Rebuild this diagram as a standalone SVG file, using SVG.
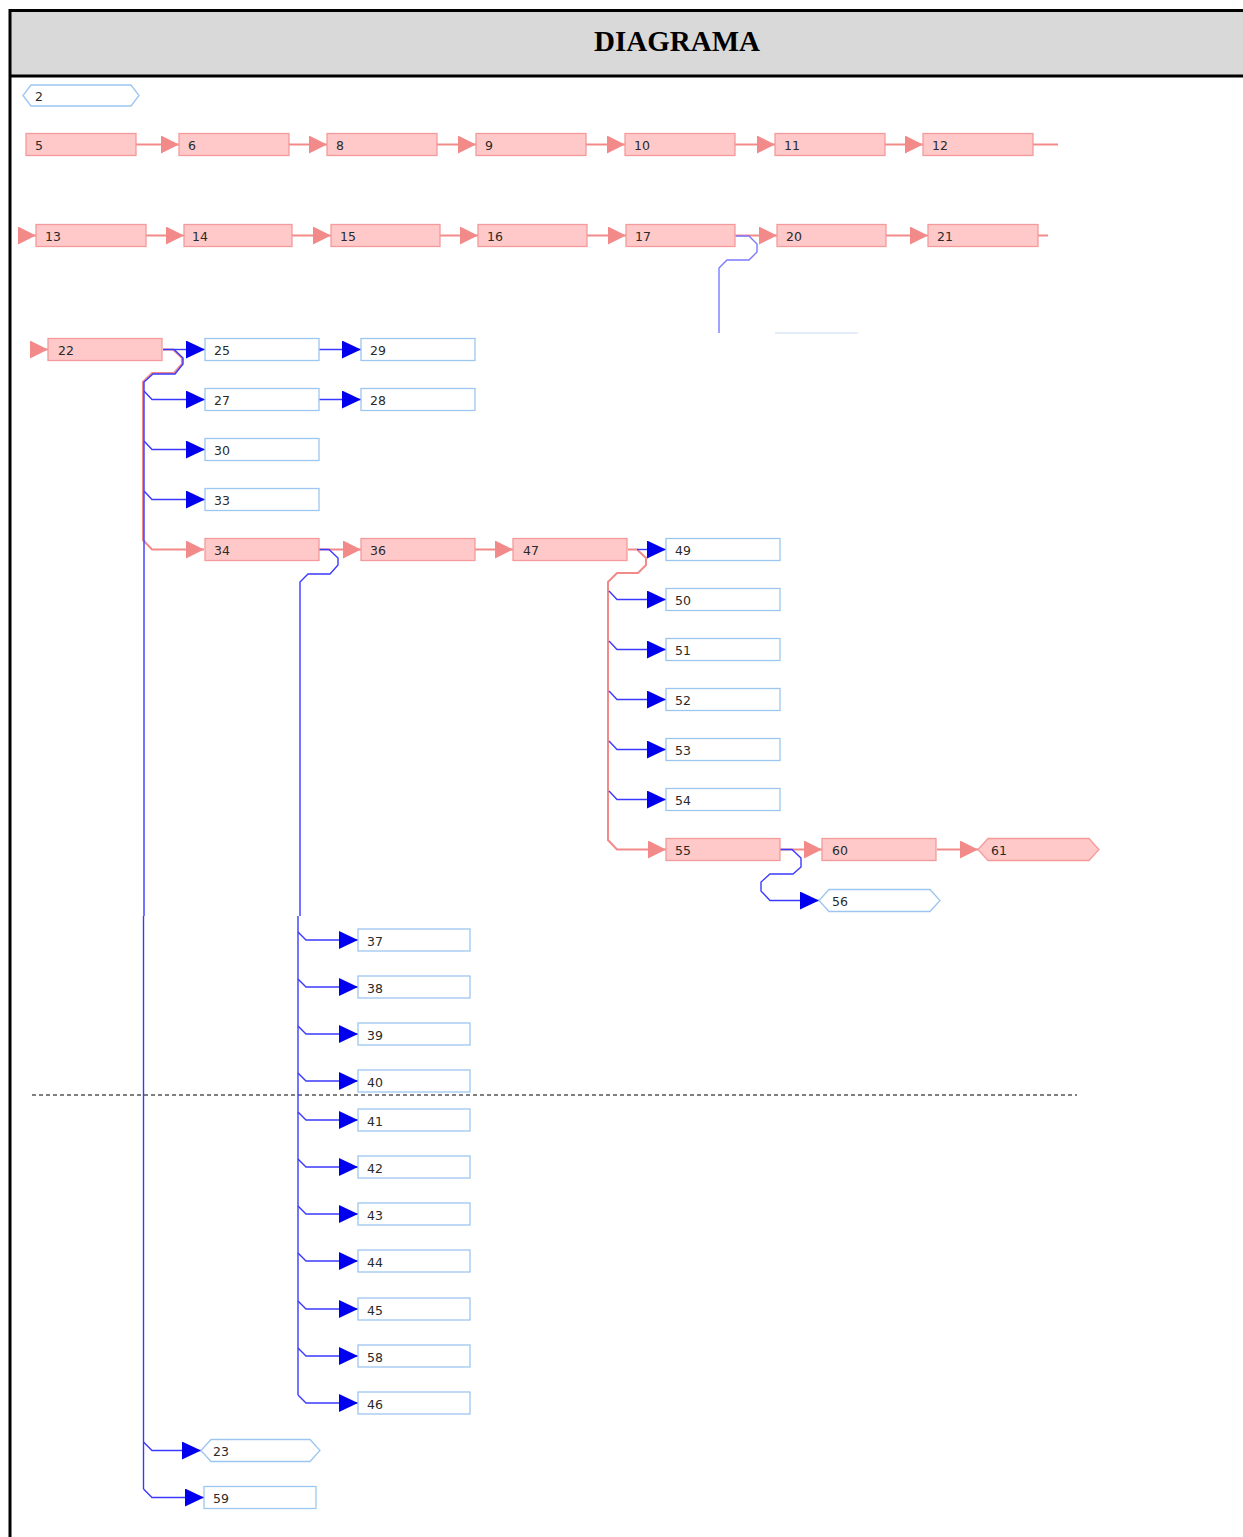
<svg xmlns="http://www.w3.org/2000/svg" width="1243" height="1537" viewBox="0 0 1243 1537">
<style>
.pk{fill:#ffc9c9;stroke:#f59a9a;stroke-width:1.3}
.bl{fill:#ffffff;stroke:#9cc6f0;stroke-width:1.3}
.t{font-family:"DejaVu Sans",sans-serif;font-size:12.5px;fill:#2a2a2a}
.pl{fill:none;stroke:#f38a8a;stroke-width:2}
.bln{fill:none;stroke:#3a3aff;stroke-width:1.4}
.blf{fill:none;stroke:#7a7aff;stroke-width:1.4}
</style>
<defs>
<marker id="pa" markerUnits="userSpaceOnUse" markerWidth="18" markerHeight="18" refX="17" refY="8.5" orient="auto" viewBox="0 0 17 17"><path d="M0,0 L17,8.5 L0,17 z" fill="#f38a8a"/></marker>
<marker id="ba" markerUnits="userSpaceOnUse" markerWidth="19" markerHeight="18" refX="18" refY="8.5" orient="auto" viewBox="0 0 18 17"><path d="M0,0 L18,8.5 L0,17 z" fill="#0000ee"/></marker>
</defs>

<g id="header">
<rect x="10" y="10" width="1240" height="66" fill="#d9d9d9"/>
<line x1="9" y1="10.5" x2="1243" y2="10.5" stroke="#000" stroke-width="3"/>
<line x1="9" y1="76" x2="1243" y2="76" stroke="#000" stroke-width="3"/>
<line x1="10" y1="9" x2="10" y2="1537" stroke="#000" stroke-width="3"/>
<text x="677" y="51" text-anchor="middle" font-family="'Liberation Serif',serif" font-weight="bold" font-size="29" fill="#000">DIAGRAMA</text>
</g>

<g id="pagebreak">
<line x1="32" y1="1095" x2="1077" y2="1095" stroke="#000" stroke-width="1" stroke-dasharray="4,3"/>
</g>

<g id="connectors">
<!-- row 1 -->
<line class="pl" x1="136" y1="144.5" x2="179" y2="144.5" marker-end="url(#pa)"/>
<line class="pl" x1="289" y1="144.5" x2="327" y2="144.5" marker-end="url(#pa)"/>
<line class="pl" x1="437" y1="144.5" x2="476" y2="144.5" marker-end="url(#pa)"/>
<line class="pl" x1="586" y1="144.5" x2="625" y2="144.5" marker-end="url(#pa)"/>
<line class="pl" x1="735" y1="144.5" x2="775" y2="144.5" marker-end="url(#pa)"/>
<line class="pl" x1="885" y1="144.5" x2="923" y2="144.5" marker-end="url(#pa)"/>
<line class="pl" x1="1033" y1="144.5" x2="1058" y2="144.5"/>
<!-- row 2 -->
<line class="pl" x1="19" y1="235.5" x2="36" y2="235.5" marker-end="url(#pa)"/>
<line class="pl" x1="146" y1="235.5" x2="184" y2="235.5" marker-end="url(#pa)"/>
<line class="pl" x1="292" y1="235.5" x2="331" y2="235.5" marker-end="url(#pa)"/>
<line class="pl" x1="440" y1="235.5" x2="478" y2="235.5" marker-end="url(#pa)"/>
<line class="pl" x1="587" y1="235.5" x2="626" y2="235.5" marker-end="url(#pa)"/>
<line class="pl" x1="735" y1="235.5" x2="777" y2="235.5" marker-end="url(#pa)"/>
<line class="pl" x1="886" y1="235.5" x2="928" y2="235.5" marker-end="url(#pa)"/>
<line class="pl" x1="1038" y1="235.5" x2="1048" y2="235.5"/>
<path class="blf" d="M736,236 L749,236 L757,244 L757,252 L749,260 L727,260 L719,268 L719,333"/>
<line x1="775" y1="333" x2="858" y2="333" stroke="#c8d8f2" stroke-width="1"/>

<!-- 22 -->
<line class="pl" x1="30" y1="349.5" x2="48" y2="349.5" marker-end="url(#pa)"/>
<path class="pl" d="M163,349.5 L173,349.5 L182,358 L182,364 L174,373 L152,373 L143,382 L143,540 L152,549.5 L204,549.5" marker-end="url(#pa)"/>
<path class="bln" d="M163,349.5 L174,349.5 L183,358 L183,364 L175,374 L153,374 L144,382 L144,916"/>
<path class="bln" d="M143.5,916 L143.5,1489"/>
<line class="bln" x1="174" y1="349.5" x2="205" y2="349.5" marker-end="url(#ba)"/>
<path class="bln" d="M144,391 L152,399.5 L205,399.5" marker-end="url(#ba)"/>
<path class="bln" d="M144,441 L152,449.5 L205,449.5" marker-end="url(#ba)"/>
<path class="bln" d="M144,491 L152,499.5 L205,499.5" marker-end="url(#ba)"/>
<path class="bln" d="M143.5,1442 L152,1450.5 L201,1450.5" marker-end="url(#ba)"/>
<path class="bln" d="M143.5,1489 L152,1497.5 L204,1497.5" marker-end="url(#ba)"/>
<line class="bln" x1="319" y1="349.5" x2="361" y2="349.5" marker-end="url(#ba)"/>
<line class="bln" x1="319" y1="399.5" x2="361" y2="399.5" marker-end="url(#ba)"/>

<!-- 34 / 36 / 47 -->
<line class="pl" x1="319" y1="549.5" x2="361" y2="549.5" marker-end="url(#pa)"/>
<line class="pl" x1="475" y1="549.5" x2="513" y2="549.5" marker-end="url(#pa)"/>
<path class="bln" d="M319,549.5 L329,549.5 L338,558 L338,565 L330,574 L308,574 L300,582 L300,916"/>
<path class="bln" d="M298,916 L298,1395"/>
<path class="bln" d="M298,932 L306,940 L358,940" marker-end="url(#ba)"/>
<path class="bln" d="M298,979 L306,987 L358,987" marker-end="url(#ba)"/>
<path class="bln" d="M298,1026 L306,1034 L358,1034" marker-end="url(#ba)"/>
<path class="bln" d="M298,1073 L306,1081 L358,1081" marker-end="url(#ba)"/>
<path class="bln" d="M298,1112 L306,1120 L358,1120" marker-end="url(#ba)"/>
<path class="bln" d="M298,1159 L306,1167 L358,1167" marker-end="url(#ba)"/>
<path class="bln" d="M298,1206 L306,1214 L358,1214" marker-end="url(#ba)"/>
<path class="bln" d="M298,1253 L306,1261 L358,1261" marker-end="url(#ba)"/>
<path class="bln" d="M298,1301 L306,1309 L358,1309" marker-end="url(#ba)"/>
<path class="bln" d="M298,1348 L306,1356 L358,1356" marker-end="url(#ba)"/>
<path class="bln" d="M298,1395 L306,1403 L358,1403" marker-end="url(#ba)"/>

<!-- 47 -->
<path class="pl" d="M628,549.5 L637,549.5 L646,558 L646,565 L638,573 L617,573 L608,582 L608,840 L617,849.5 L666,849.5" marker-end="url(#pa)"/>
<line class="bln" x1="637" y1="549.5" x2="666" y2="549.5" marker-end="url(#ba)"/>
<path class="bln" d="M609,591 L617,599.5 L666,599.5" marker-end="url(#ba)"/>
<path class="bln" d="M609,641 L617,649.5 L666,649.5" marker-end="url(#ba)"/>
<path class="bln" d="M609,691 L617,699.5 L666,699.5" marker-end="url(#ba)"/>
<path class="bln" d="M609,741 L617,749.5 L666,749.5" marker-end="url(#ba)"/>
<path class="bln" d="M609,791 L617,799.5 L666,799.5" marker-end="url(#ba)"/>

<!-- 55 -->
<line class="pl" x1="780" y1="849.5" x2="822" y2="849.5" marker-end="url(#pa)"/>
<line class="pl" x1="937" y1="849.5" x2="978" y2="849.5" marker-end="url(#pa)"/>
<path class="bln" d="M780,849.5 L792,849.5 L801,858 L801,867 L793,874 L770,874 L761,882 L761,891 L770,900.5 L819,900.5" marker-end="url(#ba)"/>
</g>

<g id="n2"><path class="bl" d="M31,85 L131,85 L139,95.5 L131,106 L31,106 L23,95.5 z"/><text class="t" x="35" y="101">2</text></g>

<g id="n5"><rect class="pk" x="26" y="133.5" width="110" height="22"/><text class="t" x="35" y="150">5</text></g>
<g id="n6"><rect class="pk" x="179" y="133.5" width="110" height="22"/><text class="t" x="188" y="150">6</text></g>
<g id="n8"><rect class="pk" x="327" y="133.5" width="110" height="22"/><text class="t" x="336" y="150">8</text></g>
<g id="n9"><rect class="pk" x="476" y="133.5" width="110" height="22"/><text class="t" x="485" y="150">9</text></g>
<g id="n10"><rect class="pk" x="625" y="133.5" width="110" height="22"/><text class="t" x="634" y="150">10</text></g>
<g id="n11"><rect class="pk" x="775" y="133.5" width="110" height="22"/><text class="t" x="784" y="150">11</text></g>
<g id="n12"><rect class="pk" x="923" y="133.5" width="110" height="22"/><text class="t" x="932" y="150">12</text></g>

<g id="n13"><rect class="pk" x="36" y="224.5" width="110" height="22"/><text class="t" x="45" y="241">13</text></g>
<g id="n14"><rect class="pk" x="184" y="224.5" width="108" height="22"/><text class="t" x="192" y="241">14</text></g>
<g id="n15"><rect class="pk" x="331" y="224.5" width="109" height="22"/><text class="t" x="340" y="241">15</text></g>
<g id="n16"><rect class="pk" x="478" y="224.5" width="109" height="22"/><text class="t" x="487" y="241">16</text></g>
<g id="n17"><rect class="pk" x="626" y="224.5" width="109" height="22"/><text class="t" x="635" y="241">17</text></g>
<g id="n20"><rect class="pk" x="777" y="224.5" width="109" height="22"/><text class="t" x="786" y="241">20</text></g>
<g id="n21"><rect class="pk" x="928" y="224.5" width="110" height="22"/><text class="t" x="937" y="241">21</text></g>

<g id="n22"><rect class="pk" x="48" y="338.5" width="114" height="22"/><text class="t" x="58" y="355">22</text></g>
<g id="n25"><rect class="bl" x="205" y="338.5" width="114" height="22"/><text class="t" x="214" y="355">25</text></g>
<g id="n29"><rect class="bl" x="361" y="338.5" width="114" height="22"/><text class="t" x="370" y="355">29</text></g>
<g id="n27"><rect class="bl" x="205" y="388.5" width="114" height="22"/><text class="t" x="214" y="405">27</text></g>
<g id="n28"><rect class="bl" x="361" y="388.5" width="114" height="22"/><text class="t" x="370" y="405">28</text></g>
<g id="n30"><rect class="bl" x="205" y="438.5" width="114" height="22"/><text class="t" x="214" y="455">30</text></g>
<g id="n33"><rect class="bl" x="205" y="488.5" width="114" height="22"/><text class="t" x="214" y="505">33</text></g>
<g id="n34"><rect class="pk" x="205" y="538.5" width="114" height="22"/><text class="t" x="214" y="555">34</text></g>
<g id="n36"><rect class="pk" x="361" y="538.5" width="114" height="22"/><text class="t" x="370" y="555">36</text></g>
<g id="n47"><rect class="pk" x="513" y="538.5" width="114" height="22"/><text class="t" x="523" y="555">47</text></g>

<g id="n49"><rect class="bl" x="666" y="538.5" width="114" height="22"/><text class="t" x="675" y="555">49</text></g>
<g id="n50"><rect class="bl" x="666" y="588.5" width="114" height="22"/><text class="t" x="675" y="605">50</text></g>
<g id="n51"><rect class="bl" x="666" y="638.5" width="114" height="22"/><text class="t" x="675" y="655">51</text></g>
<g id="n52"><rect class="bl" x="666" y="688.5" width="114" height="22"/><text class="t" x="675" y="705">52</text></g>
<g id="n53"><rect class="bl" x="666" y="738.5" width="114" height="22"/><text class="t" x="675" y="755">53</text></g>
<g id="n54"><rect class="bl" x="666" y="788.5" width="114" height="22"/><text class="t" x="675" y="805">54</text></g>
<g id="n55"><rect class="pk" x="666" y="838.5" width="114" height="22"/><text class="t" x="675" y="855">55</text></g>
<g id="n60"><rect class="pk" x="822" y="838.5" width="114" height="22"/><text class="t" x="832" y="855">60</text></g>
<g id="n61"><path class="pk" d="M988,838.5 L1089,838.5 L1099,849.5 L1089,860.5 L988,860.5 L978,849.5 z"/><text class="t" x="991" y="855">61</text></g>
<g id="n56"><path class="bl" d="M829,889.5 L930,889.5 L940,900.5 L930,911.5 L829,911.5 L819,900.5 z"/><text class="t" x="832" y="906">56</text></g>

<g id="n37"><rect class="bl" x="358" y="929" width="112" height="22"/><text class="t" x="367" y="945.5">37</text></g>
<g id="n38"><rect class="bl" x="358" y="976" width="112" height="22"/><text class="t" x="367" y="992.5">38</text></g>
<g id="n39"><rect class="bl" x="358" y="1023" width="112" height="22"/><text class="t" x="367" y="1039.5">39</text></g>
<g id="n40"><rect class="bl" x="358" y="1070" width="112" height="22"/><text class="t" x="367" y="1086.5">40</text></g>
<g id="n41"><rect class="bl" x="358" y="1109" width="112" height="22"/><text class="t" x="367" y="1125.5">41</text></g>
<g id="n42"><rect class="bl" x="358" y="1156" width="112" height="22"/><text class="t" x="367" y="1172.5">42</text></g>
<g id="n43"><rect class="bl" x="358" y="1203" width="112" height="22"/><text class="t" x="367" y="1219.5">43</text></g>
<g id="n44"><rect class="bl" x="358" y="1250" width="112" height="22"/><text class="t" x="367" y="1266.5">44</text></g>
<g id="n45"><rect class="bl" x="358" y="1298" width="112" height="22"/><text class="t" x="367" y="1314.5">45</text></g>
<g id="n58"><rect class="bl" x="358" y="1345" width="112" height="22"/><text class="t" x="367" y="1361.5">58</text></g>
<g id="n46"><rect class="bl" x="358" y="1392" width="112" height="22"/><text class="t" x="367" y="1408.5">46</text></g>

<g id="n23"><path class="bl" d="M211,1439.5 L310,1439.5 L320,1450.5 L310,1461.5 L211,1461.5 L201,1450.5 z"/><text class="t" x="213" y="1456">23</text></g>
<g id="n59"><rect class="bl" x="204" y="1486.5" width="112" height="22"/><text class="t" x="213" y="1503">59</text></g>
</svg>
